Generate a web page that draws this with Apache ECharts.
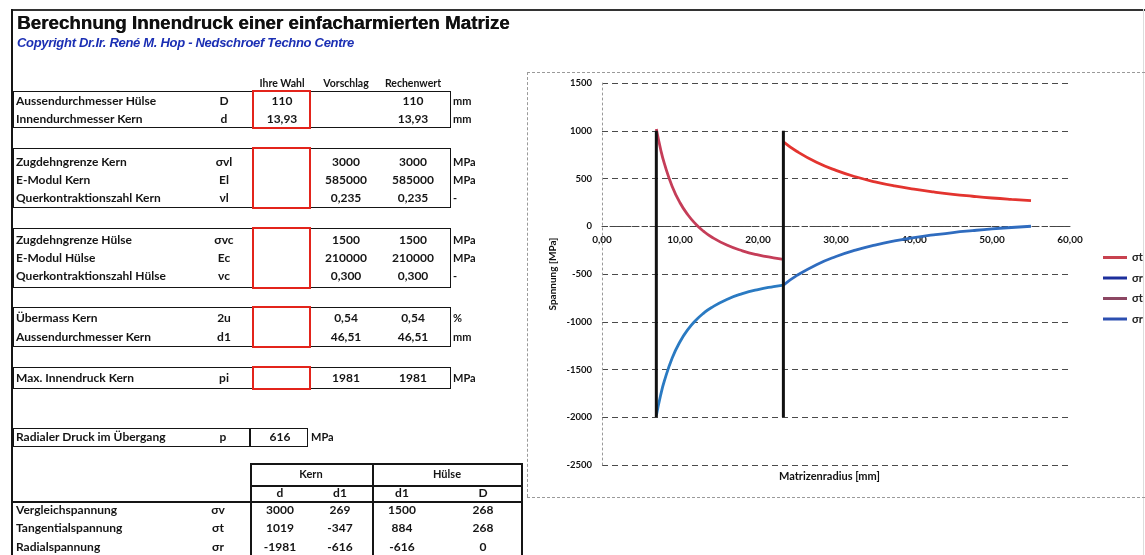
<!DOCTYPE html>
<html><head><meta charset="utf-8">
<script src="https://cdn.jsdelivr.net/npm/echarts@6/dist/echarts.min.js"></script>
<style>
html,body{margin:0;padding:0;background:#fff;}
#wrap{position:relative;width:1145px;height:555px;overflow:hidden;font-family:Lato,'Noto Sans',sans-serif;}
#chart{position:absolute;left:0;top:0;width:1145px;height:555px;}
.t{position:absolute;white-space:nowrap;font-weight:700;font-size:12px;color:#151515;line-height:14px;}
.ln{position:absolute;background:#151515;}
.box{position:absolute;border:1.5px solid #151515;box-sizing:border-box;}
.red{position:absolute;border:2.5px solid #e3241b;box-sizing:border-box;}
.dash{position:absolute;border:0 dashed #9a9a9a;}
</style></head>
<body><div id="wrap"><div id="chart"></div></div>
<script>
// ---------- chart data ----------
const kernRadius   = [6.97, 7.5, 8, 9, 10, 11, 12, 13, 14, 16, 18, 20, 22, 23.26];
const kernSigmaT   = [1019, 812, 655, 417, 246, 120, 24, -51, -110, -197, -257, -300, -331, -347];
const kernSigmaR   = [-1981, -1775, -1618, -1379, -1209, -1083, -987, -912, -853, -766, -706, -663, -632, -616];
const huelseRadius = [23.26, 25, 27.5, 30, 32.5, 35, 37.5, 40, 42.5, 45, 47.5, 50, 52.5, 55];
const huelseSigmaT = [884, 783, 670, 585, 518, 465, 422, 388, 359, 334, 314, 296, 281, 268];
const huelseSigmaR = [-616, -515, -402, -317, -250, -197, -154, -119, -91, -66, -46, -28, -13, 0];
const transitionRadii = [6.965, 23.255];
const transitionSpan  = [-2000, 1000];
const xTicks = [0, 10, 20, 30, 40, 50, 60];
const yTicks = [-2500, -2000, -1500, -1000, -500, 0, 500, 1000, 1500];
const legendNames = ['σt Hülse', 'σr Hülse', 'σt Kern', 'σr Kern'];

// ---------- table texts ----------
const title = 'Berechnung Innendruck einer einfacharmierten Matrize';
const copyright = 'Copyright Dr.Ir. René M. Hop - Nedschroef Techno Centre';
const headers = ['Ihre Wahl', 'Vorschlag', 'Rechenwert'];
const groups = [
  [['Aussendurchmesser Hülse','D','110','','110','mm'],['Innendurchmesser Kern','d','13,93','','13,93','mm']],
  [['Zugdehngrenze Kern','σvl','','3000','3000','MPa'],['E-Modul Kern','El','','585000','585000','MPa'],['Querkontraktionszahl Kern','νl','','0,235','0,235','-']],
  [['Zugdehngrenze Hülse','σvc','','1500','1500','MPa'],['E-Modul Hülse','Ec','','210000','210000','MPa'],['Querkontraktionszahl Hülse','νc','','0,300','0,300','-']],
  [['Übermass Kern','2u','','0,54','0,54','%'],['Aussendurchmesser Kern','d1','','46,51','46,51','mm']],
  [['Max. Innendruck Kern','pi','','1981','1981','MPa']]
];
const radialRow = ['Radialer Druck im Übergang','p','616','MPa'];
const resultHead1 = ['Kern','Hülse'];
const resultHead2 = ['d','d1','d1','D'];
const resultRows = [
  ['Vergleichspannung','σv','3000','269','1500','268'],
  ['Tangentialspannung','σt','1019','-347','884','268'],
  ['Radialspannung','σr','-1981','-616','-616','0']
];

// ---------- layout ----------
const wrap = document.getElementById('wrap');
function txt(s, x, y, align, extra){
  const d = document.createElement('div'); d.className='t'; d.textContent=s;
  d.style.top=(y-7)+'px';
  if(align==='c'){d.style.left=x+'px';d.style.transform='translateX(-50%)';}
  else if(align==='r'){d.style.right=(1145-x)+'px';}
  else d.style.left=x+'px';
  if(extra) Object.assign(d.style, extra);
  wrap.appendChild(d); return d;
}
function rect(cls,x,y,w,h,extra){const d=document.createElement('div');d.className=cls;
  Object.assign(d.style,{left:x+'px',top:y+'px',width:w+'px',height:h+'px'});if(extra)Object.assign(d.style,extra);wrap.appendChild(d);return d;}

// frame
rect('ln',11,9,1134,2,{background:'#333'});
rect('ln',11,9,2,546);
rect('ln',1143,9,1,546,{background:'#ddd'});
rect('dash',527,72,618,0,{borderTopWidth:'1px'});
rect('dash',527,497,618,0,{borderTopWidth:'1px'});
rect('dash',527,72,0,425,{borderLeftWidth:'1px'});

txt(title,17,23,'l',{fontFamily:"'Liberation Sans',Arial,sans-serif",fontSize:'18.8px',lineHeight:'20px',top:'13px',color:'#111',textShadow:'0.4px 0 0 #111'});
txt(copyright,17,43,'l',{fontFamily:"'Liberation Sans',Arial,sans-serif",fontSize:'13px',fontStyle:'italic',color:'#1b2fb4',letterSpacing:'-0.3px'});

const colX = [16, 224, 282, 346, 413, 453];
const hdrSize = {fontSize:'10.5px'};
headers.forEach((h,i)=>txt(h,colX[i+2],83,'c',hdrSize));

const groupBoxes = [[91,128,[101,119]],[148,208,[162,180,198]],[228,288,[240,258,276]],[307,347,[318,337]],[367,389,[378]]];
groups.forEach((g,gi)=>{
  const [t,b,ys]=groupBoxes[gi];
  rect('box',13,t,438,b-t);
  rect('red',252,t-1,59,b-t+2);
  g.forEach((row,ri)=>{
    const y=ys[ri];
    txt(row[0],colX[0],y,'l');
    txt(row[1],colX[1],y,'c');
    if(row[2])txt(row[2],colX[2],y,'c');
    if(row[3])txt(row[3],colX[3],y,'c');
    if(row[4])txt(row[4],colX[4],y,'c');
    txt(row[5],colX[5],y,'l',{fontSize:'11px'});
  });
});

// radial pressure
rect('box',13,428,295,19);
rect('ln',249,428,1.5,19);
txt(radialRow[0],16,437,'l');
txt(radialRow[1],223,437,'c');
txt(radialRow[2],280,437,'c');
txt(radialRow[3],311,437,'l',{fontSize:'11px'});

// result table
rect('ln',250,463,272,1.5);
rect('ln',250,485,272,1.5);
rect('ln',12,501,510,1.5);
rect('ln',250,463,1.5,92);
rect('ln',372,463,2,92);
rect('ln',521,463,1.5,92);
txt(resultHead1[0],311,474,'c',{fontSize:'11px'});
txt(resultHead1[1],447,474,'c',{fontSize:'11px'});
const resX=[280,340,402,483];
resultHead2.forEach((h,i)=>txt(h,resX[i],493,'c'));
const resY=[510,528,547];
resultRows.forEach((r,ri)=>{
  txt(r[0],16,resY[ri],'l');
  txt(r[1],218,resY[ri],'c');
  for(let k=0;k<4;k++)txt(r[k+2],resX[k],resY[ri],'c');
});

// ---------- chart ----------
const chart = echarts.init(document.getElementById('chart'), null, {renderer:'canvas'});
const zip = (xs, ys) => xs.map((x,i)=>[x, ys[i]]);
const curveColors = {'σt Hülse':'#e3342f','σr Hülse':'#2f6cbf','σt Kern':'#c53d58','σr Kern':'#2a7ac2'};
const legendColors = {'σt Hülse':'#c8424f','σr Hülse':'#1d2f9c','σt Kern':'#8c4763','σr Kern':'#2c4fb0'};
const curveData = {
  'σt Hülse': zip(huelseRadius, huelseSigmaT),
  'σr Hülse': zip(huelseRadius, huelseSigmaR),
  'σt Kern':  zip(kernRadius, kernSigmaT),
  'σr Kern':  zip(kernRadius, kernSigmaR)
};
const series = legendNames.map(n=>({
  name:n, type:'line', data:curveData[n], smooth:true, showSymbol:false, symbol:'none',
  lineStyle:{color:curveColors[n], width:2.8}, itemStyle:{color:curveColors[n]}, z:3
}));
transitionRadii.forEach((r,i)=>series.push({
  name:'Übergang '+i, type:'line', data:transitionSpan.map(v=>[r,v]), showSymbol:false, symbol:'none',
  lineStyle:{color:'#111', width:3}, silent:true, z:4
}));
const fontFam = "Lato,'Noto Sans',sans-serif";
const labelFont = {fontFamily:fontFam, fontWeight:'bold', fontSize:10, color:'#111'};
// grid geometry (pixels) used to put the x axis on the zero line
const gridTop = 83, gridBottom = 90, gridH = 555 - gridTop - gridBottom;
const yMin = yTicks[0], yMax = yTicks[yTicks.length-1];
const zeroOffset = -gridH * (0 - yMin) / (yMax - yMin);
chart.setOption({
  animation:false,
  grid:{left:602, right:75, top:gridTop, bottom:gridBottom, containLabel:false, outerBoundsMode:'none'},
  xAxis:{type:'value', min:xTicks[0], max:xTicks[xTicks.length-1], interval:10,
    position:'bottom', offset:zeroOffset,
    axisLine:{onZero:false, lineStyle:{color:'#444', type:[5,3], width:1}},
    axisTick:{show:false},
    axisLabel:{...labelFont, margin:9, formatter:v=>v.toFixed(2).replace('.',',')},
    splitLine:{show:false}},
  yAxis:{type:'value', min:yMin, max:yMax, interval:500,
    name:'Spannung [MPa]', nameLocation:'middle', nameGap:44,
    nameTextStyle:{fontFamily:fontFam, fontWeight:'bold', fontSize:10, color:'#111'},
    axisLine:{show:true, onZero:false, lineStyle:{color:'#999', type:[2,3], width:1}},
    axisTick:{show:false},
    axisLabel:{...labelFont, fontSize:9.5, margin:10, formatter:v=>String(v)},
    splitLine:{show:true, lineStyle:{color:'#4a4a4a', type:[6,4], width:1}}},
  graphic:[{type:'text', left:779, top:471,
    style:{text:'Matrizenradius [mm]', font:"bold 11px "+fontFam, fill:'#111'}}],
  legend:{orient:'vertical', left:1098, top:247, itemWidth:24, itemHeight:3, itemGap:9.5, icon:'rect',
    data:legendNames.map(n=>({name:n, itemStyle:{color:legendColors[n]}})),
    formatter:n=>n.split(' ')[0],
    textStyle:{fontFamily:fontFam, fontWeight:'bold', fontSize:11, color:'#222'}},
  series
});
</script></body></html>
